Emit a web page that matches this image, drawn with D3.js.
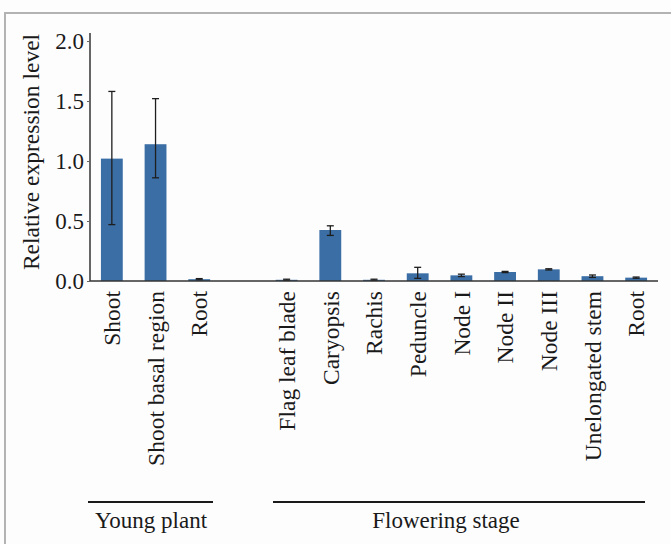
<!DOCTYPE html>
<html>
<head>
<meta charset="utf-8">
<script src="https://cdn.jsdelivr.net/npm/d3@7"></script>
<style>
  html, body { margin: 0; padding: 0; background: #fdfdfe; }
  svg { display: block; }
  svg text { font-family: "Liberation Serif", "Tinos", "DejaVu Serif", "Times New Roman", Times, serif !important; fill: #1a1a1a; }
</style>
</head>
<body>
<svg id="chart"></svg>
<script>
// tissue categories ("" = blank slot between the two stages)
const categories = ["Shoot", "Shoot basal region", "Root", "",
  "Flag leaf blade", "Caryopsis", "Rachis", "Peduncle", "Node I",
  "Node II", "Node III", "Unelongated stem", "Root"];
const values   = [1.02, 1.14, 0.015, null, 0.01, 0.425, 0.01, 0.064, 0.047, 0.075, 0.097, 0.04, 0.028];
const errLow   = [0.47, 0.86, 0.01, null, 0.005, 0.38, 0.005, 0.022, 0.037, 0.07, 0.092, 0.03, 0.023];
const errHigh  = [1.58, 1.52, 0.02, null, 0.015, 0.46, 0.015, 0.114, 0.057, 0.08, 0.102, 0.05, 0.033];
const yTicks   = [0, 0.5, 1.0, 1.5, 2.0];
const groups   = ["Young plant", "Flowering stage"];

const width = 671, height = 544;
const svg = d3.select("#chart").attr("width", width).attr("height", height)
  .attr("font-family", '"Liberation Serif", serif');

// light frame around the figure
svg.append("rect")
  .attr("x", 5).attr("y", 13)
  .attr("width", width + 20).attr("height", height + 20)
  .attr("fill", "none").attr("stroke", "#b3b3b3").attr("stroke-width", 2);

const keys = categories.map((c, i) => i);
const x = d3.scaleBand().domain(keys).range([90, 658]).paddingInner(0.5).paddingOuter(0.25);
const y = d3.scaleLinear().domain([0, 2.067]).range([281, 33]);

// y axis
const yAxis = svg.append("g")
  .attr("transform", "translate(90,0)")
  .call(d3.axisLeft(y).tickValues(yTicks).tickFormat(d3.format(".1f")).tickSize(3).tickPadding(3));
yAxis.attr("font-family", null);
yAxis.select(".domain").attr("stroke", "#333").attr("stroke-width", 1.5).attr("d", `M0,${y.range()[1]}V${y(0)}`);
yAxis.selectAll(".tick line").attr("stroke", "#666");
yAxis.selectAll(".tick text").attr("font-size", 23).attr("fill", "#1a1a1a");

svg.append("text")
  .attr("transform", `translate(39,152) rotate(-90)`)
  .attr("text-anchor", "middle")
  .attr("font-size", 23.5)
  .text("Relative expression level");

// bars
const bars = keys.filter(i => values[i] !== null);
svg.append("g").selectAll("rect")
  .data(bars)
  .join("rect")
  .attr("x", i => x(i))
  .attr("width", x.bandwidth())
  .attr("y", i => y(values[i]))
  .attr("height", i => y(0) - y(values[i]))
  .attr("fill", "#3a6ea5");

// error bars
const eb = svg.append("g").attr("stroke", "#1e1e1e").attr("stroke-width", 1.3);
bars.forEach(i => {
  const cx = x(i) + x.bandwidth() / 2;
  eb.append("line").attr("x1", cx).attr("x2", cx).attr("y1", y(errLow[i])).attr("y2", y(errHigh[i]));
  eb.append("line").attr("x1", cx - 3.5).attr("x2", cx + 3.5).attr("y1", y(errLow[i])).attr("y2", y(errLow[i]));
  eb.append("line").attr("x1", cx - 3.5).attr("x2", cx + 3.5).attr("y1", y(errHigh[i])).attr("y2", y(errHigh[i]));
});

// x axis line
svg.append("line")
  .attr("x1", 90).attr("x2", x.range()[1])
  .attr("y1", y(0)).attr("y2", y(0))
  .attr("stroke", "#333").attr("stroke-width", 1.5);

// rotated category labels
svg.append("g").selectAll("text")
  .data(bars)
  .join("text")
  .attr("transform", i => `translate(${x(i) + x.bandwidth() / 2},291) rotate(-90)`)
  .attr("text-anchor", "end")
  .attr("dy", "0.35em")
  .attr("font-size", 23.5)
  .text(i => categories[i]);

// stage brackets
const bracket = [[88, 213, 151], [273, 645, 446]];
groups.forEach((label, k) => {
  const [x0, x1, tx] = bracket[k];
  svg.append("line")
    .attr("x1", x0).attr("x2", x1)
    .attr("y1", 502).attr("y2", 502)
    .attr("stroke", "#1a1a1a").attr("stroke-width", 2);
  svg.append("text")
    .attr("x", tx).attr("y", 528)
    .attr("text-anchor", "middle")
    .attr("font-size", 23)
    .text(label);
});
</script>
</body>
</html>
